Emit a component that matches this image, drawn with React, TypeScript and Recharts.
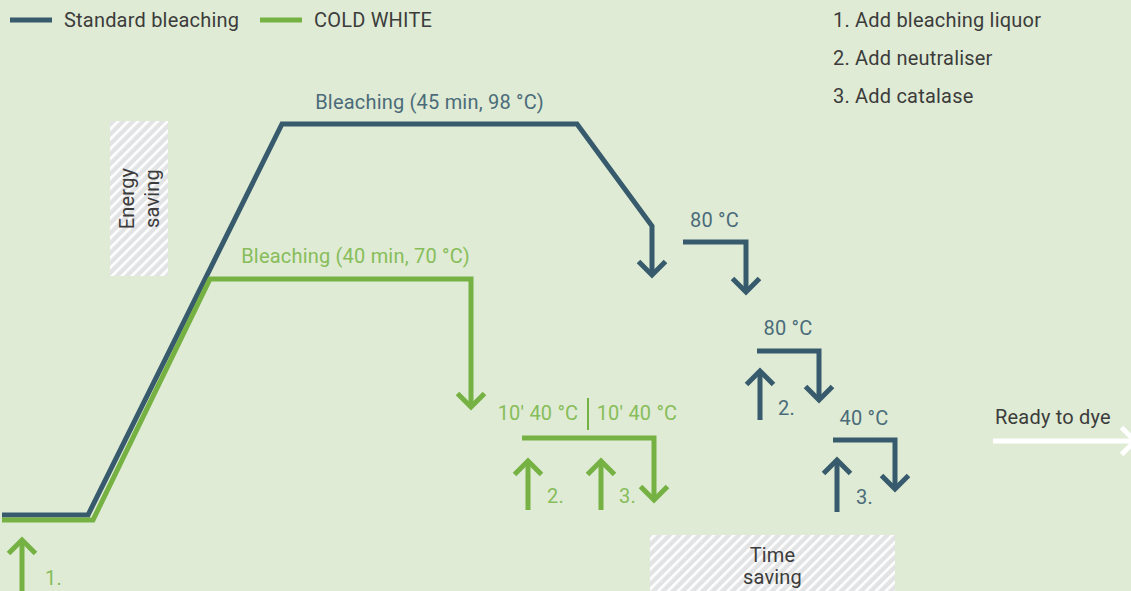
import React from 'react';
import { ComposedChart, Line, ReferenceArea, ReferenceDot, XAxis, YAxis } from 'recharts';

const W = 1131;
const H = 591;
const BG = '#dfebd4';
const BLUE = '#375a6c';
const BLUE_TEXT = '#4b6b7a';
const GREEN = '#76b143';
const GREEN_TEXT = '#87bd5a';
const INK = '#3c3c3c';
const FONT = 'Roboto, "Open Sans", sans-serif';

type Pt = { t: number; v: number };

// t = process time, v = bath level (schematic units)
// Standard bleaching
const standardMain: Pt[] = [
  { t: 0.2, v: 7.6 }, { t: 8.8, v: 7.6 }, { t: 28.2, v: 46.7 },
  { t: 57.7, v: 46.7 }, { t: 65.2, v: 36.5 }, { t: 65.2, v: 31.6 },
];
const standardRinse80: Pt[] = [{ t: 68.3, v: 34.9 }, { t: 74.6, v: 34.9 }, { t: 74.6, v: 29.9 }];
const standardNeutral80: Pt[] = [{ t: 75.7, v: 24.0 }, { t: 81.9, v: 24.0 }, { t: 81.9, v: 19.1 }];
const standardCatalase40: Pt[] = [{ t: 83.3, v: 15.1 }, { t: 89.5, v: 15.1 }, { t: 89.5, v: 10.2 }];
const standardDoseNeutraliser: Pt[] = [{ t: 76.0, v: 17.1 }, { t: 76.0, v: 22.0 }];
const standardDoseCatalase: Pt[] = [{ t: 83.7, v: 7.9 }, { t: 83.7, v: 13.1 }];

// COLD WHITE
const coldMain: Pt[] = [
  { t: 0.2, v: 7.1 }, { t: 9.3, v: 7.1 }, { t: 21.0, v: 31.2 },
  { t: 47.1, v: 31.2 }, { t: 47.1, v: 18.4 },
];
const coldAfter40: Pt[] = [{ t: 52.2, v: 15.3 }, { t: 65.4, v: 15.3 }, { t: 65.4, v: 9.1 }];
const coldDoseLiquor: Pt[] = [{ t: 2.2, v: 0 }, { t: 2.2, v: 5.1 }];
const coldDoseNeutraliser: Pt[] = [{ t: 52.8, v: 8.1 }, { t: 52.8, v: 13.0 }];
const coldDoseCatalase: Pt[] = [{ t: 60.1, v: 8.1 }, { t: 60.1, v: 13.0 }];

const readyToDye: Pt[] = [{ t: 99.3, v: 15.0 }, { t: 113.5, v: 15.0 }];

const legendItems = [
  { name: 'Standard bleaching', color: BLUE },
  { name: 'COLD WHITE', color: GREEN },
];
const steps = ['1. Add bleaching liquor', '2. Add neutraliser', '3. Add catalase'];

const mid = (s: Pt[], i: number): Pt => ({ t: (s[i].t + s[i + 1].t) / 2, v: (s[i].v + s[i + 1].v) / 2 });

// chevron at the last point, pointing the way the series goes
function arrowHead(series: Pt[], color: string) {
  const a = series[series.length - 2];
  const b = series[series.length - 1];
  const dx = Math.sign(b.t - a.t);
  const dy = -Math.sign(b.v - a.v);
  return (props: any) => {
    const { cx, cy, index } = props;
    if (index !== series.length - 1) return <g key={`d${index}`} />;
    const s = 13.5;
    const bx = cx - dx * s;
    const by = cy - dy * s;
    const px = -dy * s;
    const py = dx * s;
    return (
      <polyline
        key={`d${index}`}
        points={`${bx + px},${by + py} ${cx},${cy} ${bx - px},${by - py}`}
        fill="none"
        stroke={color}
        strokeWidth={5}
        strokeLinejoin="miter"
      />
    );
  };
}

const paths = [
  { key: 'sMain', data: standardMain, color: BLUE },
  { key: 'sRinse', data: standardRinse80, color: BLUE },
  { key: 'sNeut', data: standardNeutral80, color: BLUE },
  { key: 'sCat', data: standardCatalase40, color: BLUE },
  { key: 'sDose2', data: standardDoseNeutraliser, color: BLUE },
  { key: 'sDose3', data: standardDoseCatalase, color: BLUE },
  { key: 'cMain', data: coldMain, color: GREEN },
  { key: 'cAfter', data: coldAfter40, color: GREEN },
  { key: 'cDose1', data: coldDoseLiquor, color: GREEN },
  { key: 'cDose2', data: coldDoseNeutraliser, color: GREEN },
  { key: 'cDose3', data: coldDoseCatalase, color: GREEN },
  { key: 'ready', data: readyToDye, color: '#ffffff' },
];

const labels = [
  { at: mid(standardMain, 2), text: 'Bleaching (45 min, 98 °C)', color: BLUE_TEXT, dx: 0, dy: -22, anchor: 'middle' },
  { at: mid(coldMain, 2), text: 'Bleaching (40 min, 70 °C)', color: GREEN_TEXT, dx: 15, dy: -23, anchor: 'middle' },
  { at: mid(standardRinse80, 0), text: '80 °C', color: BLUE_TEXT, dx: 0, dy: -22, anchor: 'middle' },
  { at: mid(standardNeutral80, 0), text: '80 °C', color: BLUE_TEXT, dx: 0, dy: -23, anchor: 'middle' },
  { at: mid(standardCatalase40, 0), text: '40 °C', color: BLUE_TEXT, dx: 0, dy: -22, anchor: 'middle' },
  { at: mid(coldAfter40, 0), text: "10' 40 °C", color: GREEN_TEXT, dx: -50, dy: -25, anchor: 'middle' },
  { at: mid(coldAfter40, 0), text: "10' 40 °C", color: GREEN_TEXT, dx: 49, dy: -25, anchor: 'middle' },
  { at: coldDoseLiquor[0], text: '1.', color: GREEN_TEXT, dx: 23, dy: -13, anchor: 'start' },
  { at: coldDoseNeutraliser[0], text: '2.', color: GREEN_TEXT, dx: 19, dy: -14, anchor: 'start' },
  { at: coldDoseCatalase[0], text: '3.', color: GREEN_TEXT, dx: 18, dy: -14, anchor: 'start' },
  { at: standardDoseNeutraliser[0], text: '2.', color: BLUE_TEXT, dx: 18, dy: -12, anchor: 'start' },
  { at: standardDoseCatalase[0], text: '3.', color: BLUE_TEXT, dx: 19, dy: -15, anchor: 'start' },
  { at: readyToDye[0], text: 'Ready to dye', color: INK, dx: 2, dy: -24, anchor: 'start' },
];

// saving boxes, spanned by the gap between the two processes
const energyBox = { t1: 11.0, t2: 16.8, v1: coldMain[2].v + 0.3, v2: standardMain[2].v + 0.3 };
const timeBox = { t1: coldAfter40[2].t - 0.4, t2: standardCatalase40[2].t, v1: 0, v2: 5.6 };

export default function App() {
  return (
    <div style={{ position: 'fixed', left: 0, top: 0, width: W, height: H, background: BG, overflow: 'hidden', fontFamily: FONT, letterSpacing: 0.2 }}>
      <ComposedChart width={W} height={H} margin={{ top: 0, right: 0, bottom: 0, left: 0 }}>
        <defs>
          <pattern id="hatch" patternUnits="userSpaceOnUse" width="7" height="7" patternTransform="rotate(45)">
            <rect width="7" height="7" fill="#e2e3e4" />
            <rect width="2.6" height="7" fill="#ffffff" />
          </pattern>
        </defs>
        <XAxis type="number" dataKey="t" domain={[0, 113.1]} hide allowDataOverflow />
        <YAxis type="number" dataKey="v" domain={[0, 59.1]} hide allowDataOverflow />

        <ReferenceArea x1={energyBox.t1} x2={energyBox.t2} y1={energyBox.v1} y2={energyBox.v2} fill="url(#hatch)" fillOpacity={1} stroke="none" />
        <ReferenceArea x1={timeBox.t1} x2={timeBox.t2} y1={timeBox.v1} y2={timeBox.v2} fill="url(#hatch)" fillOpacity={1} stroke="none" />

        {paths.map((p) => (
          <Line
            key={p.key}
            data={p.data}
            dataKey="v"
            type="linear"
            stroke={p.color}
            strokeWidth={5}
            strokeLinejoin="miter"
            dot={arrowHead(p.data, p.color)}
            activeDot={false}
            isAnimationActive={false}
            legendType="none"
          />
        ))}

        {labels.map((l, i) => (
          <ReferenceDot
            key={`lab${i}`}
            x={l.at.t}
            y={l.at.v}
            ifOverflow="visible"
            shape={(s: any) => (
              <text x={s.cx + l.dx} y={s.cy + l.dy} fill={l.color} fontSize={20} fontFamily={FONT} letterSpacing={0.2} textAnchor={l.anchor as any} dominantBaseline="central">
                {l.text}
              </text>
            )}
          />
        ))}

        {/* divider between the two 10' baths */}
        <ReferenceDot
          x={mid(coldAfter40, 0).t}
          y={mid(coldAfter40, 0).v}
          ifOverflow="visible"
          shape={(s: any) => <line x1={s.cx} x2={s.cx} y1={s.cy - 40} y2={s.cy - 8} stroke={GREEN} strokeWidth={2} />}
        />

        <ReferenceDot
          x={(energyBox.t1 + energyBox.t2) / 2}
          y={(energyBox.v1 + energyBox.v2) / 2}
          ifOverflow="visible"
          shape={(s: any) => (
            <text transform={`rotate(-90 ${s.cx} ${s.cy})`} fill={INK} fontSize={20} fontFamily={FONT} letterSpacing={0.2} textAnchor="middle" dominantBaseline="central">
              <tspan x={s.cx} y={s.cy - 12}>Energy</tspan>
              <tspan x={s.cx} y={s.cy + 13}>saving</tspan>
            </text>
          )}
        />
        <ReferenceDot
          x={(timeBox.t1 + timeBox.t2) / 2}
          y={(timeBox.v1 + timeBox.v2) / 2}
          ifOverflow="visible"
          shape={(s: any) => (
            <text fill={INK} fontSize={20} fontFamily={FONT} letterSpacing={0.2} textAnchor="middle" dominantBaseline="central">
              <tspan x={s.cx} y={s.cy - 8}>Time</tspan>
              <tspan x={s.cx} y={s.cy + 14}>saving</tspan>
            </text>
          )}
        />
      </ComposedChart>

      {/* legend */}
      {legendItems.map((item, i) => (
        <div key={item.name} style={{ position: 'absolute', top: 0, left: i === 0 ? 10 : 260, height: 40, display: 'flex', alignItems: 'center' }}>
          <svg width={42} height={6} style={{ marginRight: 12 }}>
            <line x1={0} x2={42} y1={3} y2={3} stroke={item.color} strokeWidth={5} />
          </svg>
          <span style={{ fontSize: 20, color: INK }}>{item.name}</span>
        </div>
      ))}

      {/* process steps */}
      <div style={{ position: 'absolute', top: 1, left: 833, color: INK, fontSize: 20, lineHeight: '38px' }}>
        {steps.map((s) => (
          <div key={s}>{s}</div>
        ))}
      </div>
    </div>
  );
}
